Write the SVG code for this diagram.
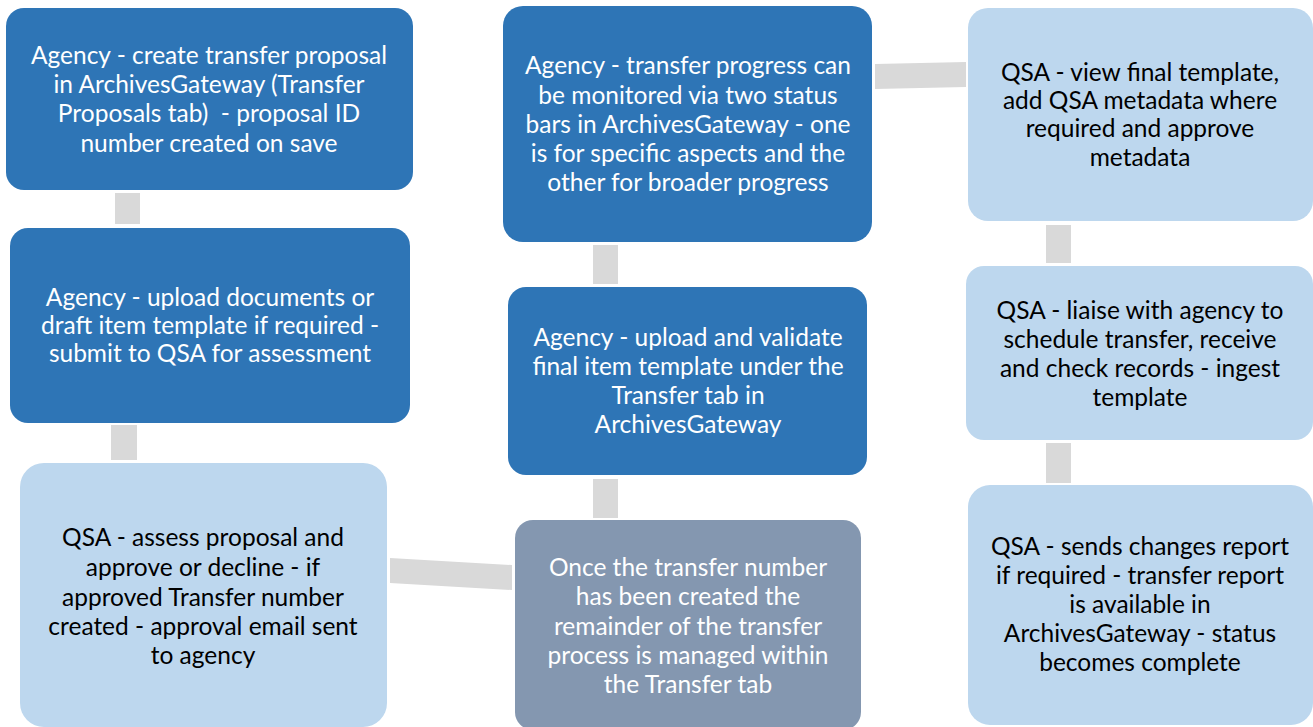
<svg xmlns="http://www.w3.org/2000/svg" width="1313" height="727" viewBox="0 0 1313 727">
  <style>
    .dark { fill: #2E75B6; }
    .light { fill: #BDD7EE; }
    .slate { fill: #8497B0; }
    .bar { fill: #D9D9D9; }
    text { font-family: Lato, "Liberation Sans", sans-serif; font-size: 24.5px; text-anchor: middle; white-space: pre; }
    .w { fill: #FFFFFF; }
    .k { fill: #000000; }
  </style>
  <rect width="1313" height="727" fill="#FFFFFF"/>

  <g id="connectors">
    <rect class="bar" x="115" y="193" width="25" height="31"/>
    <rect class="bar" x="111" y="425" width="26" height="35"/>
    <polygon class="bar" points="390,558 512,565 512,590 390,583"/>
    <rect class="bar" x="593" y="479" width="25" height="39"/>
    <rect class="bar" x="593" y="245" width="25" height="39"/>
    <polygon class="bar" points="875,64 966,62 966,87 875,89"/>
    <rect class="bar" x="1046" y="225" width="25" height="38"/>
    <rect class="bar" x="1046" y="443" width="25" height="40"/>
  </g>

  <g id="create-proposal">
    <rect class="dark" x="6" y="8" width="407" height="182" rx="18"/>
    <text class="w" x="209" y="64">Agency - create transfer proposal</text>
    <text class="w" x="209" y="93">in ArchivesGateway (Transfer</text>
    <text class="w" x="209" y="122" xml:space="preserve">Proposals tab)  - proposal ID</text>
    <text class="w" x="209" y="152">number created on save</text>
  </g>

  <g id="upload-draft">
    <rect class="dark" x="10" y="228" width="400" height="195" rx="18"/>
    <text class="w" x="210" y="306">Agency - upload documents or</text>
    <text class="w" x="210" y="334">draft item template if required -</text>
    <text class="w" x="210" y="362">submit to QSA for assessment</text>
  </g>

  <g id="assess-proposal">
    <rect class="light" x="20" y="463" width="367" height="264" rx="24"/>
    <text class="k" x="203" y="546">QSA - assess proposal and</text>
    <text class="k" x="203" y="576">approve or decline - if</text>
    <text class="k" x="203" y="606">approved Transfer number</text>
    <text class="k" x="203" y="635">created - approval email sent</text>
    <text class="k" x="203" y="664">to agency</text>
  </g>

  <g id="transfer-tab">
    <rect class="slate" x="515" y="520" width="346" height="210" rx="18"/>
    <text class="w" x="688" y="576">Once the transfer number</text>
    <text class="w" x="688" y="605">has been created the</text>
    <text class="w" x="688" y="635">remainder of the transfer</text>
    <text class="w" x="688" y="664">process is managed within</text>
    <text class="w" x="688" y="693">the Transfer tab</text>
  </g>

  <g id="upload-final">
    <rect class="dark" x="508" y="287" width="359" height="188" rx="18"/>
    <text class="w" x="688" y="346">Agency - upload and validate</text>
    <text class="w" x="688" y="375">final item template under the</text>
    <text class="w" x="688" y="404">Transfer tab in</text>
    <text class="w" x="688" y="433">ArchivesGateway</text>
  </g>

  <g id="monitor-progress">
    <rect class="dark" x="503" y="6" width="369" height="236" rx="20"/>
    <text class="w" x="688" y="74">Agency - transfer progress can</text>
    <text class="w" x="688" y="104">be monitored via two status</text>
    <text class="w" x="688" y="133">bars in ArchivesGateway - one</text>
    <text class="w" x="688" y="162">is for specific aspects and the</text>
    <text class="w" x="688" y="191">other for broader progress</text>
  </g>

  <g id="approve-metadata">
    <rect class="light" x="968" y="8" width="345" height="213" rx="20"/>
    <text class="k" x="1140" y="81">QSA - view final template,</text>
    <text class="k" x="1140" y="109">add QSA metadata where</text>
    <text class="k" x="1140" y="137">required and approve</text>
    <text class="k" x="1140" y="166">metadata</text>
  </g>

  <g id="schedule-transfer">
    <rect class="light" x="966" y="266" width="347" height="174" rx="18"/>
    <text class="k" x="1140" y="319">QSA - liaise with agency to</text>
    <text class="k" x="1140" y="348">schedule transfer, receive</text>
    <text class="k" x="1140" y="377">and check records - ingest</text>
    <text class="k" x="1140" y="406">template</text>
  </g>

  <g id="changes-report">
    <rect class="light" x="968" y="485" width="345" height="240" rx="22"/>
    <text class="k" x="1140" y="555">QSA - sends changes report</text>
    <text class="k" x="1140" y="584">if required - transfer report</text>
    <text class="k" x="1140" y="613">is available in</text>
    <text class="k" x="1140" y="642">ArchivesGateway - status</text>
    <text class="k" x="1140" y="671">becomes complete</text>
  </g>
</svg>
